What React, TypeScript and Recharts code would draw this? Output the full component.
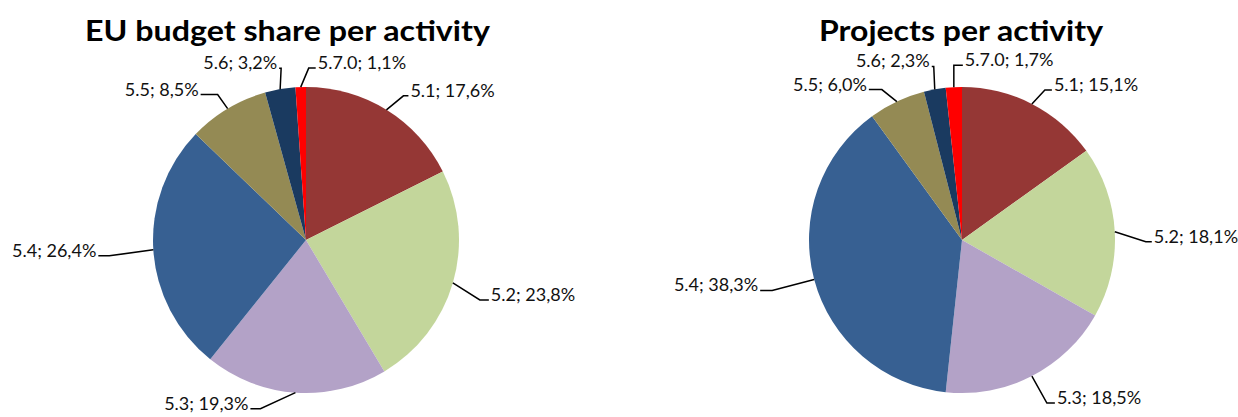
import React from "react";
import { PieChart, Pie, Cell } from "recharts";

const categories = ["5.1", "5.2", "5.3", "5.4", "5.5", "5.6", "5.7.0"];
const budgetShare = [17.6, 23.8, 19.3, 26.4, 8.5, 3.2, 1.1];
const projectsShare = [15.1, 18.1, 18.5, 38.3, 6.0, 2.3, 1.7];
const sliceColors = ["#953735", "#C3D69B", "#B3A2C7", "#376092", "#948A54", "#1A3A60", "#FF0000"];
const titles = ["EU budget share per activity", "Projects per activity"];

// label leader-line layout: elbow offset from slice edge (dx, dy) and horizontal run h (sign = side)
const budgetLabelLayout = [
  { dx: 17, dy: -14, h: 5 },
  { dx: 27, dy: 17, h: 9 },
  { dx: -35, dy: 16, h: -10 },
  { dx: -44, dy: 6, h: -11 },
  { dx: -10, dy: -14, h: -17 },
  { dx: 1, dy: -21, h: -2 },
  { dx: 8, dy: -19, h: 7 },
];
const projectsLabelLayout = [
  { dx: 13, dy: -14, h: 7 },
  { dx: 31, dy: 10, h: 6 },
  { dx: 15, dy: 27, h: 8 },
  { dx: -42, dy: 11, h: -12 },
  { dx: -15, dy: -12, h: -13 },
  { dx: -1, dy: -23, h: -2 },
  { dx: 0, dy: -22, h: 9 },
];

const budgetData = categories.map((c, i) => ({ name: c, value: budgetShare[i] }));
const projectsData = categories.map((c, i) => ({ name: c, value: projectsShare[i] }));

const fmt = (v: number) => v.toFixed(1).replace(".", ",") + "%";
const RAD = Math.PI / 180;
const FONT = "Lato, 'Liberation Sans', Arial, sans-serif";

const makeLabel = (layout: { dx: number; dy: number; h: number }[]) => (props: any) => {
  const { cx, cy, midAngle, outerRadius, index, payload } = props;
  const ex = cx + outerRadius * Math.cos(-midAngle * RAD);
  const ey = cy + outerRadius * Math.sin(-midAngle * RAD);
  const l = layout[index];
  const bx = ex + l.dx;
  const by = ey + l.dy;
  const hx = bx + l.h;
  const right = l.h >= 0;
  const tx = hx + (right ? 2 : -2);
  const name = payload?.name ?? categories[index];
  const value = payload?.value ?? 0;
  return (
    <g key={`lbl-${index}`}>
      <polyline
        points={`${ex},${ey} ${bx},${by} ${hx},${by}`}
        fill="none"
        stroke="#000"
        strokeWidth={1.5}
      />
      <text
        x={tx}
        y={by + 1}
        textAnchor={right ? "start" : "end"}
        fontFamily={FONT}
        fontSize={18}
        fill="#111"
      >
        {`${name}; ${fmt(value)}`}
      </text>
    </g>
  );
};

export default function App() {
  return (
    <div style={{ position: "absolute", left: 0, top: 0, width: 1238, height: 417, background: "#fff" }}>
      <PieChart width={1238} height={417} margin={{ top: 0, right: 0, bottom: 0, left: 0 }}>
        <Pie
          data={budgetData}
          dataKey="value"
          nameKey="name"
          cx={306}
          cy={240}
          outerRadius={153}
          startAngle={90}
          endAngle={-270}
          stroke="none"
          isAnimationActive={false}
          labelLine={false}
          label={makeLabel(budgetLabelLayout)}
        >
          {budgetData.map((d, i) => (
            <Cell key={d.name} fill={sliceColors[i]} />
          ))}
        </Pie>
        <Pie
          data={projectsData}
          dataKey="value"
          nameKey="name"
          cx={962}
          cy={240}
          outerRadius={153}
          startAngle={90}
          endAngle={-270}
          stroke="none"
          isAnimationActive={false}
          labelLine={false}
          label={makeLabel(projectsLabelLayout)}
        >
          {projectsData.map((d, i) => (
            <Cell key={d.name} fill={sliceColors[i]} />
          ))}
        </Pie>
      </PieChart>
      <svg
        width={1238}
        height={417}
        style={{ position: "absolute", left: 0, top: 0, pointerEvents: "none" }}
      >
        <text x={85} y={41} fontFamily={FONT} fontWeight={700} fontSize={28} fill="#000" textLength={405} lengthAdjust="spacingAndGlyphs">
          {titles[0]}
        </text>
        <text x={819} y={41} fontFamily={FONT} fontWeight={700} fontSize={28} fill="#000" textLength={284} lengthAdjust="spacingAndGlyphs">
          {titles[1]}
        </text>
      </svg>
    </div>
  );
}
